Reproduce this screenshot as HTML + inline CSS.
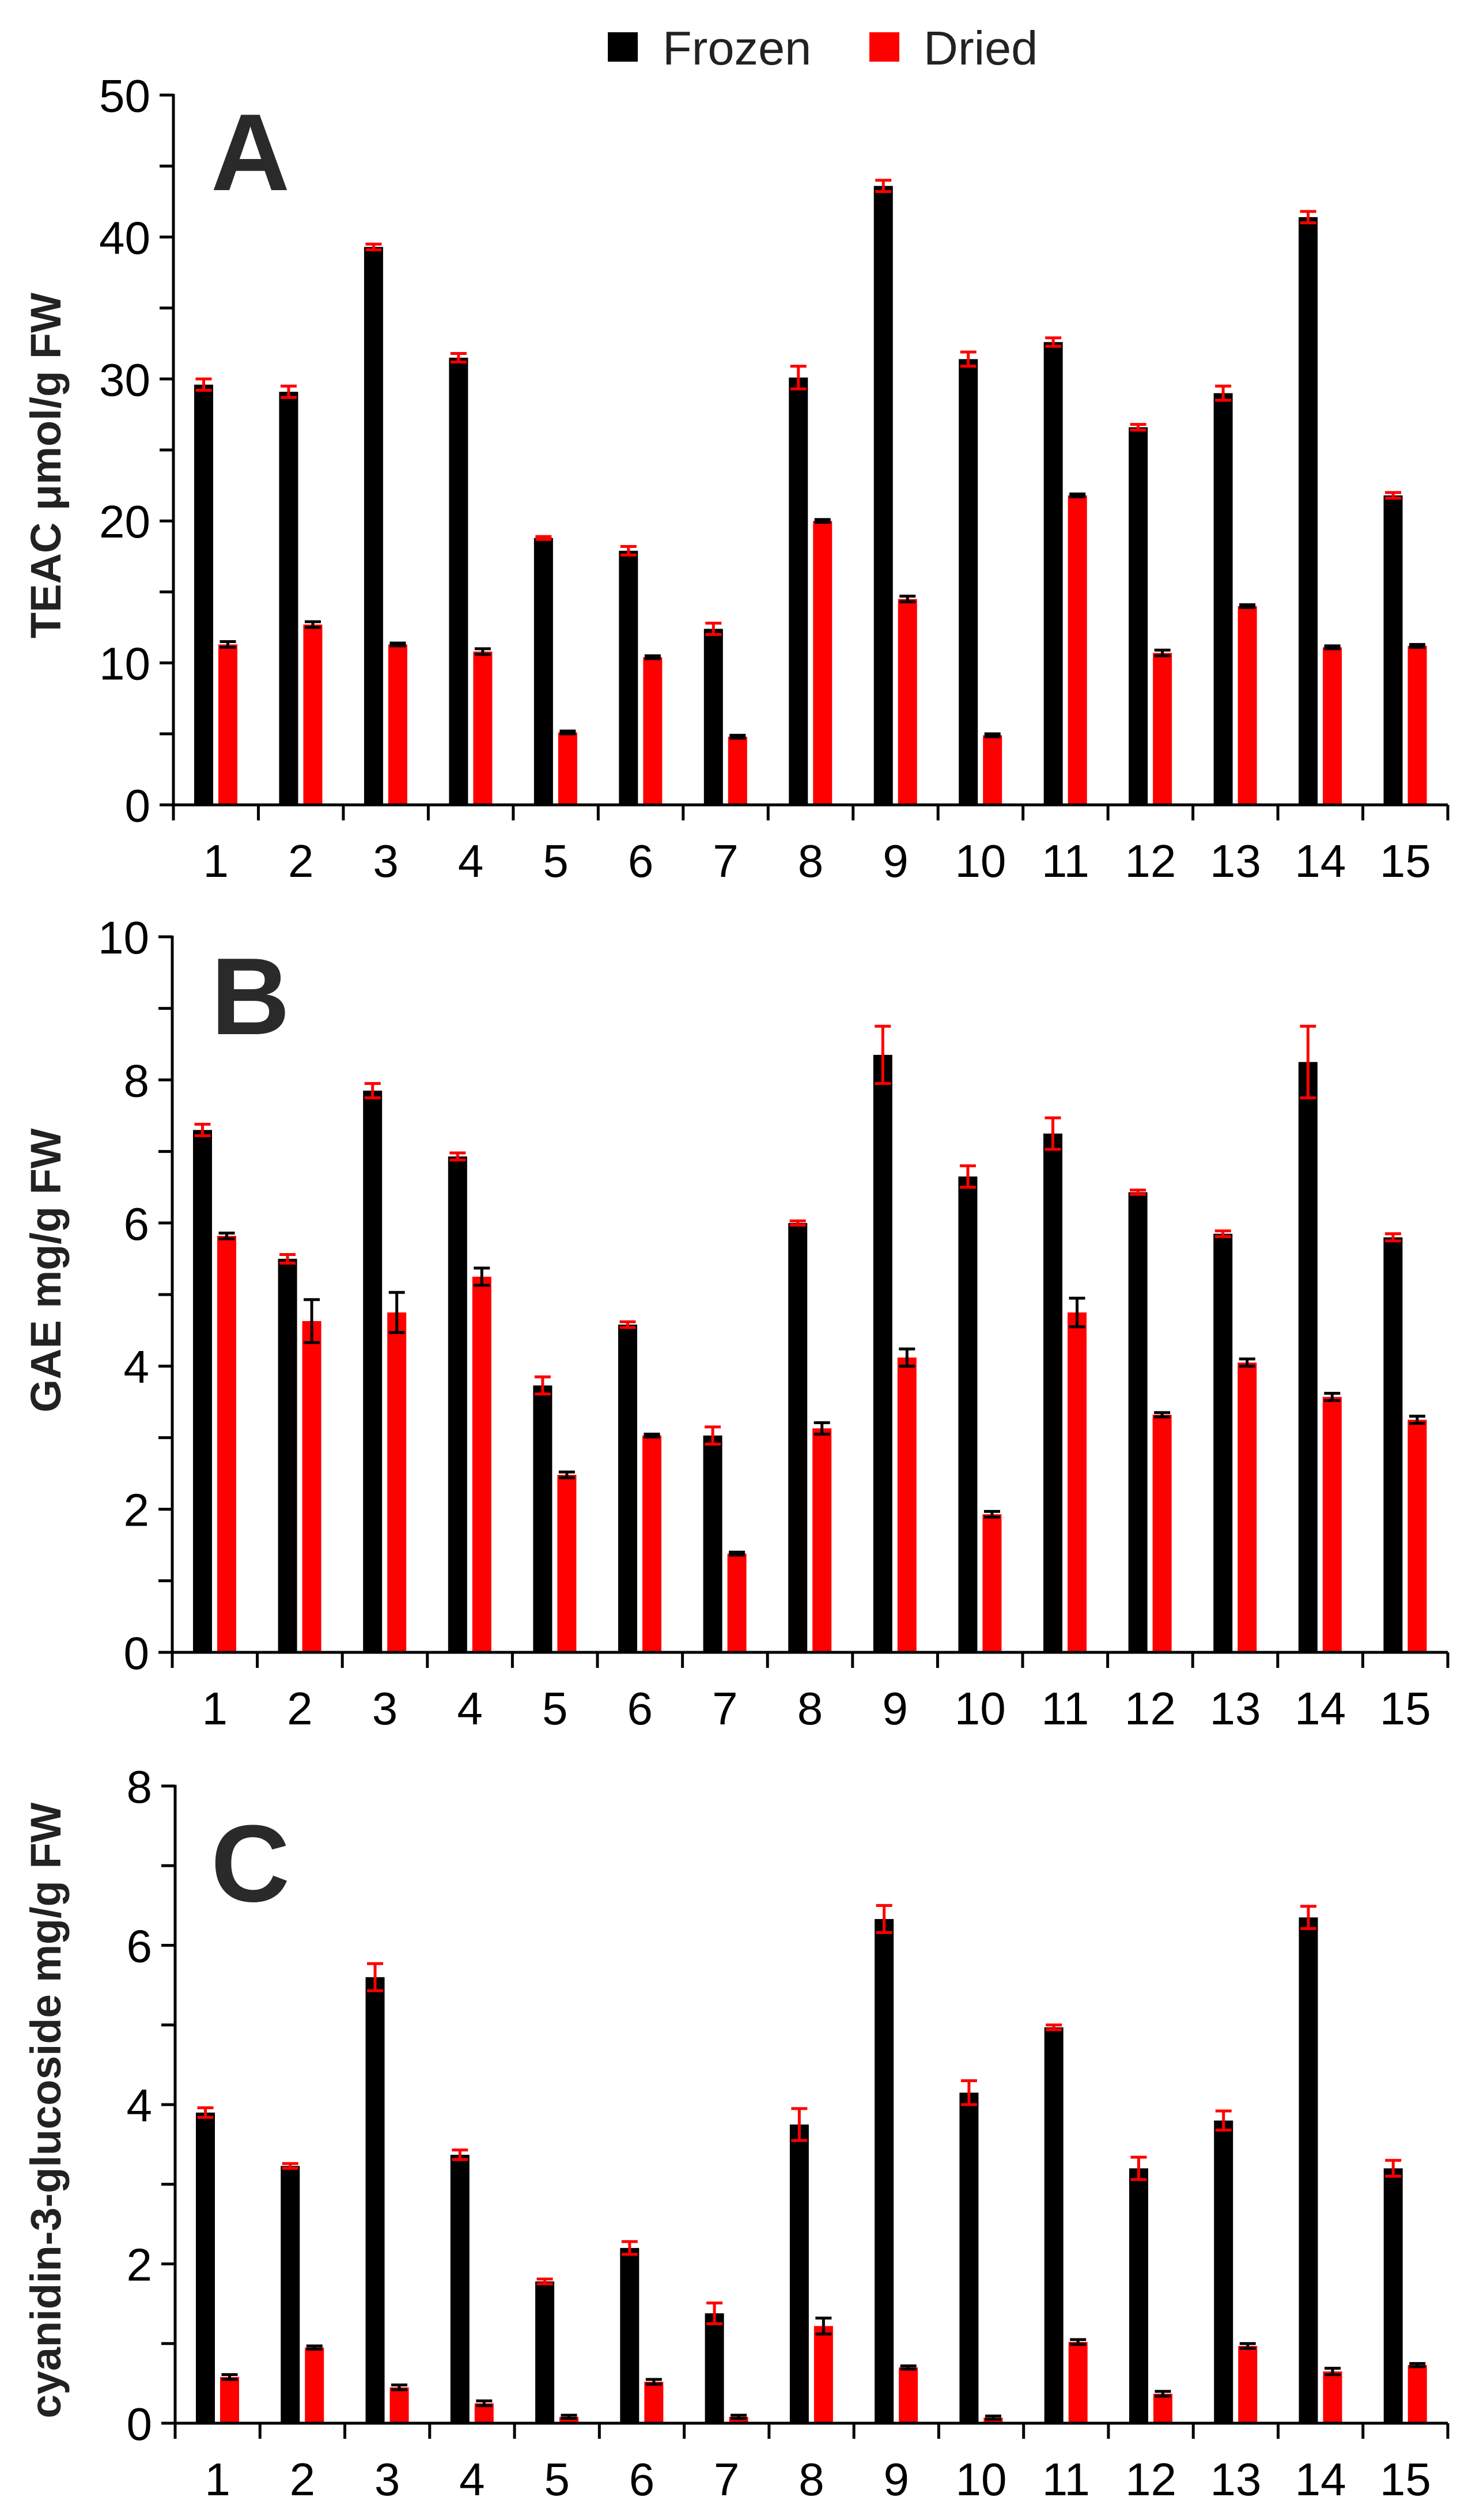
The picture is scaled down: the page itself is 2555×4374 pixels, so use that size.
<!DOCTYPE html>
<html><head><meta charset="utf-8"><style>
html,body{margin:0;padding:0;background:#fff;}
svg{display:block;font-family:"Liberation Sans",Arial,sans-serif;}
</style></head><body>
<svg id="chart" width="2555" height="4374" viewBox="0 0 2555 4374" xmlns="http://www.w3.org/2000/svg">
<g>
<rect x="1055" y="56" width="52" height="51" fill="#000"/>
<text x="1150" y="112" font-size="83" fill="#222">Frozen</text>
<rect x="1509" y="56" width="52" height="51" fill="#f00"/>
<text x="1603" y="112" font-size="83" fill="#222">Dried</text>
</g>
</svg>
<script>
const categories = ["1","2","3","4","5","6","7","8","9","10","11","12","13","14","15"];
const frozenA = [29.6,29.1,39.3,31.5,18.8,17.9,12.4,30.1,43.6,31.4,32.6,26.6,29.0,41.4,21.8];
const frozenAErr = [0.4,0.4,0.2,0.3,0.1,0.3,0.4,0.8,0.4,0.5,0.3,0.2,0.5,0.4,0.2];
const driedA = [11.3,12.7,11.3,10.8,5.1,10.4,4.8,20.0,14.5,4.9,21.8,10.7,14.0,11.1,11.2];
const driedAErr = [0.2,0.2,0.1,0.2,0.1,0.1,0.1,0.1,0.2,0.1,0.1,0.2,0.1,0.1,0.1];
const frozenB = [7.3,5.5,7.85,6.93,3.73,4.58,3.03,6.0,8.35,6.65,7.25,6.43,5.85,8.25,5.8];
const frozenBErr = [0.08,0.06,0.1,0.05,0.12,0.04,0.12,0.03,0.4,0.15,0.22,0.03,0.04,0.5,0.05];
const driedB = [5.82,4.63,4.75,5.25,2.48,3.03,1.38,3.13,4.12,1.93,4.75,3.32,4.05,3.57,3.25];
const driedBErr = [0.04,0.3,0.28,0.12,0.04,0.02,0.02,0.08,0.12,0.04,0.2,0.03,0.05,0.05,0.05];
const frozenC = [3.9,3.23,5.6,3.37,1.78,2.2,1.38,3.75,6.33,4.15,4.97,3.2,3.8,6.35,3.2];
const frozenCErr = [0.06,0.03,0.17,0.06,0.03,0.08,0.13,0.2,0.17,0.15,0.03,0.14,0.12,0.14,0.1];
const driedC = [0.58,0.95,0.45,0.25,0.08,0.52,0.08,1.22,0.7,0.07,1.02,0.37,0.97,0.65,0.73];
const driedCErr = [0.03,0.02,0.03,0.03,0.02,0.03,0.02,0.1,0.02,0.02,0.03,0.03,0.03,0.04,0.02];
const ticksA = ["0","10","20","30","40","50"];
const ticksB = ["0","2","4","6","8","10"];
const ticksC = ["0","2","4","6","8"];

const NS = "http://www.w3.org/2000/svg";
const svg = document.getElementById('chart');
function mk(tag, attrs, parent){
  const e = document.createElementNS(NS, tag);
  for (const k in attrs) e.setAttribute(k, attrs[k]);
  (parent||svg).appendChild(e);
  return e;
}
function panel(p){
  const g = mk('g', {});
  
  
  const x0 = p.x0, x1 = 2513, step = (x1 - x0) / categories.length;
  const y = v => p.yZero - (v / p.max) * (p.yZero - p.yTop);
  const xc = i => x0 + i * step;
  // bars
  const series = [[p.frozen, p.frozenErr, '#000', '#f00', 36, 'frozen'], [p.dried, p.driedErr, '#f00', '#000', 78, 'dried']];
  series.forEach(s => {
    s[0].forEach((v, i) => {
      const bx = xc(i) + s[4];
      const r = mk('rect', {x: bx, y: y(v), width: 33, height: p.yZero - y(v), fill: s[2]}, g);
      
      
      const e = s[1][i], cx = bx + 16.5;
      const eb = mk('path', {d: `M${cx} ${y(v+e)}V${y(v-e)}M${cx-14} ${y(v+e)}H${cx+14}M${cx-14} ${y(v-e)}H${cx+14}`, stroke: s[3], 'stroke-width': 5, fill: 'none'}, g);
      
      
    });
  });
  // y axis
  const ya = mk('path', {d: `M${x0} ${p.yTop - 2}V${p.yZero}`, stroke: '#000', 'stroke-width': 5, fill: 'none'}, g);
  
  
  const nT = p.ticks.length - 1;
  for (let k = 0; k <= nT * 2; k++) {
    const v = p.max * k / (nT * 2), ty = y(v);
    mk('path', {d: `M${x0 - 24} ${ty}H${x0}`, stroke: '#000', 'stroke-width': 5}, g);
  }
  p.ticks.forEach((t, k) => {
    const tl = mk('text', {x: x0 - 40, y: y(p.max * k / nT) + 29, 'font-size': 80, 'text-anchor': 'end', fill: '#000'}, g);
    tl.textContent = t;
    
    
  });
  // x axis
  const xa = mk('path', {d: `M${x0 - 24} ${p.yZero}H${x1}`, stroke: '#000', 'stroke-width': 5, fill: 'none'}, g);
  
  
  for (let i = 0; i <= categories.length; i++) {
    mk('path', {d: `M${xc(i)} ${p.yZero}V${p.yZero + 27}`, stroke: '#000', 'stroke-width': 5}, g);
  }
  categories.forEach((c, i) => {
    const tl = mk('text', {x: xc(i) + step / 2, y: p.yZero + 125, 'font-size': 80, 'text-anchor': 'middle', fill: '#000'}, g);
    tl.textContent = c;
    
    
  });
  const at = mk('text', {x: 0, y: 0, transform: `translate(105 ${p.titleY}) rotate(-90)`, 'font-size': 74, 'font-weight': 'bold', 'text-anchor': 'middle', fill: '#222'}, g);
  at.textContent = p.title;
  
  
  const pl = mk('text', {x: 366, y: p.letterY, 'font-size': 190, 'font-weight': 'bold', fill: '#2a2a2a'}, g);
  pl.textContent = p.letter;
  
  
}
panel({id:'a', letter:'A', x0:301, yTop:165, yZero:1397, max:50, ticks:ticksA, frozen:frozenA, frozenErr:frozenAErr, dried:driedA, driedErr:driedAErr, title:'TEAC \u03bcmol/g FW', titleY:808, letterY:330});
panel({id:'b', letter:'B', x0:299, yTop:1626, yZero:2868, max:10, ticks:ticksB, frozen:frozenB, frozenErr:frozenBErr, dried:driedB, driedErr:driedBErr, title:'GAE mg/g FW', titleY:2205, letterY:1795});
panel({id:'c', letter:'C', x0:304, yTop:3100, yZero:4206, max:8, ticks:ticksC, frozen:frozenC, frozenErr:frozenCErr, dried:driedC, driedErr:driedCErr, title:'cyanidin-3-glucoside mg/g FW', titleY:3663, letterY:3300});
</script>
</body></html>
